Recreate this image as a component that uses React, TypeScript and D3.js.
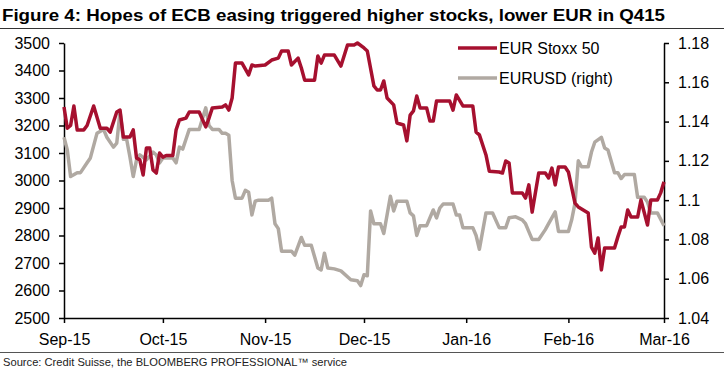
import React, { useRef, useEffect } from 'react';
import * as d3 from 'd3';

// EUR Stoxx 50
const stoxxDates = [
  '2015-09-01', '2015-09-02', '2015-09-03', '2015-09-04', '2015-09-05', '2015-09-07', '2015-09-08', '2015-09-10',
  '2015-09-12', '2015-09-14', '2015-09-15', '2015-09-17', '2015-09-18', '2015-09-19', '2015-09-21', '2015-09-22',
  '2015-09-23', '2015-09-24', '2015-09-25', '2015-09-26', '2015-09-27', '2015-09-28', '2015-09-29', '2015-09-30',
  '2015-10-01', '2015-10-02', '2015-10-04', '2015-10-05', '2015-10-06', '2015-10-08', '2015-10-09', '2015-10-12',
  '2015-10-14', '2015-10-15', '2015-10-16', '2015-10-19', '2015-10-20', '2015-10-21', '2015-10-22', '2015-10-23',
  '2015-10-25', '2015-10-27', '2015-10-28', '2015-10-29', '2015-11-01', '2015-11-03', '2015-11-05', '2015-11-06',
  '2015-11-08', '2015-11-09', '2015-11-11', '2015-11-12', '2015-11-13', '2015-11-16', '2015-11-17', '2015-11-18',
  '2015-11-19', '2015-11-22', '2015-11-24', '2015-11-26', '2015-11-28', '2015-11-29', '2015-12-01', '2015-12-02',
  '2015-12-04', '2015-12-05', '2015-12-06', '2015-12-07', '2015-12-08', '2015-12-10', '2015-12-11', '2015-12-13',
  '2015-12-14', '2015-12-15', '2015-12-16', '2015-12-17', '2015-12-18', '2015-12-20', '2015-12-21', '2015-12-22',
  '2015-12-23', '2015-12-27', '2015-12-28', '2015-12-29', '2015-12-31', '2016-01-03', '2016-01-04', '2016-01-05',
  '2016-01-07', '2016-01-08', '2016-01-11', '2016-01-12', '2016-01-13', '2016-01-14', '2016-01-15', '2016-01-18',
  '2016-01-19', '2016-01-20', '2016-01-21', '2016-01-23', '2016-01-25', '2016-01-26', '2016-01-27', '2016-01-28',
  '2016-01-29', '2016-01-31', '2016-02-01', '2016-02-03', '2016-02-04', '2016-02-07', '2016-02-08', '2016-02-09',
  '2016-02-10', '2016-02-11', '2016-02-12', '2016-02-15', '2016-02-16', '2016-02-17', '2016-02-18', '2016-02-19',
  '2016-02-20', '2016-02-22', '2016-02-23', '2016-02-25', '2016-02-26', '2016-02-28', '2016-02-29', '2016-03-01',
];
const stoxxValues = [
  3267, 3190, 3200, 3271, 3184, 3184, 3200, 3271,
  3190, 3190, 3176, 3249, 3256, 3158, 3158, 3184,
  3082, 3075, 3020, 3118, 3118, 3038, 3027, 3100,
  3085, 3091, 3091, 3184, 3220, 3227, 3249, 3249,
  3195, 3227, 3264, 3267, 3275, 3256, 3300, 3427,
  3427, 3384, 3420, 3416, 3420, 3438, 3445, 3471,
  3471, 3420, 3445, 3409, 3365, 3365, 3453, 3427,
  3456, 3456, 3416, 3493, 3493, 3500, 3482, 3471,
  3344, 3329, 3329, 3362, 3300, 3275, 3209, 3202,
  3144, 3238, 3253, 3307, 3264, 3264, 3216, 3216,
  3289, 3289, 3256, 3311, 3271, 3271, 3176, 3166,
  3093, 3034, 3031, 3027, 3071, 3064, 2955, 2955,
  2936, 2984, 2885, 3027, 3027, 3009, 3045, 2984,
  3049, 3049, 3031, 2918, 2904, 2882, 2758, 2736,
  2791, 2675, 2755, 2755, 2795, 2831, 2831, 2893,
  2867, 2867, 2929, 2838, 2929, 2929, 2955, 2995,
];

// EURUSD
const eurusdDates = [
  '2015-09-01', '2015-09-02', '2015-09-03', '2015-09-05', '2015-09-06', '2015-09-08', '2015-09-09', '2015-09-11',
  '2015-09-13', '2015-09-14', '2015-09-16', '2015-09-17', '2015-09-18', '2015-09-19', '2015-09-20', '2015-09-21',
  '2015-09-22', '2015-09-23', '2015-09-24', '2015-09-26', '2015-09-28', '2015-09-29', '2015-09-30', '2015-10-01',
  '2015-10-04', '2015-10-05', '2015-10-06', '2015-10-07', '2015-10-08', '2015-10-09', '2015-10-12', '2015-10-14',
  '2015-10-15', '2015-10-16', '2015-10-18', '2015-10-19', '2015-10-20', '2015-10-21', '2015-10-22', '2015-10-23',
  '2015-10-25', '2015-10-26', '2015-10-27', '2015-10-28', '2015-10-29', '2015-10-30', '2015-11-02', '2015-11-03',
  '2015-11-04', '2015-11-05', '2015-11-06', '2015-11-09', '2015-11-10', '2015-11-12', '2015-11-13', '2015-11-15',
  '2015-11-17', '2015-11-18', '2015-11-19', '2015-11-20', '2015-11-22', '2015-11-24', '2015-11-27', '2015-11-29',
  '2015-11-30', '2015-12-01', '2015-12-02', '2015-12-03', '2015-12-04', '2015-12-06', '2015-12-07', '2015-12-09',
  '2015-12-10', '2015-12-11', '2015-12-14', '2015-12-15', '2015-12-16', '2015-12-17', '2015-12-18', '2015-12-20',
  '2015-12-22', '2015-12-23', '2015-12-24', '2015-12-25', '2015-12-28', '2015-12-29', '2015-12-30', '2015-12-31',
  '2016-01-03', '2016-01-04', '2016-01-05', '2016-01-07', '2016-01-09', '2016-01-11', '2016-01-13', '2016-01-14',
  '2016-01-16', '2016-01-18', '2016-01-19', '2016-01-20', '2016-01-21', '2016-01-23', '2016-01-25', '2016-01-26',
  '2016-01-28', '2016-01-29', '2016-02-01', '2016-02-02', '2016-02-03', '2016-02-04', '2016-02-05', '2016-02-07',
  '2016-02-08', '2016-02-09', '2016-02-11', '2016-02-12', '2016-02-13', '2016-02-15', '2016-02-16', '2016-02-17',
  '2016-02-18', '2016-02-21', '2016-02-22', '2016-02-24', '2016-02-25', '2016-02-26', '2016-02-28', '2016-03-01',
];
const eurusdValues = [
  1.132, 1.1255, 1.112, 1.114, 1.114, 1.119, 1.1215, 1.134,
  1.136, 1.132, 1.127, 1.129, 1.145, 1.131, 1.131, 1.122,
  1.112, 1.1205, 1.123, 1.1205, 1.1245, 1.123, 1.119, 1.1215,
  1.1215, 1.119, 1.127, 1.126, 1.131, 1.136, 1.136, 1.147,
  1.138, 1.136, 1.136, 1.134, 1.134, 1.133, 1.110, 1.101,
  1.101, 1.105, 1.104, 1.0925, 1.0995, 1.1, 1.1, 1.101,
  1.088, 1.0855, 1.074, 1.074, 1.072, 1.081, 1.077, 1.077,
  1.0655, 1.0645, 1.073, 1.0655, 1.065, 1.064, 1.0595, 1.059,
  1.0565, 1.062, 1.0615, 1.0945, 1.088, 1.088, 1.083, 1.102,
  1.0945, 1.0995, 1.0995, 1.0935, 1.092, 1.082, 1.087, 1.087,
  1.095, 1.091, 1.096, 1.098, 1.098, 1.0925, 1.0925, 1.086,
  1.086, 1.082, 1.075, 1.0935, 1.0935, 1.086, 1.086, 1.091,
  1.0915, 1.090, 1.088, 1.084, 1.080, 1.080, 1.085, 1.088,
  1.094, 1.084, 1.084, 1.090, 1.0985, 1.120, 1.117, 1.117,
  1.1245, 1.1295, 1.132, 1.1265, 1.1255, 1.114, 1.114, 1.111,
  1.113, 1.113, 1.1015, 1.1015, 1.099, 1.0935, 1.0935, 1.087,
];

const leftTicks = [2500, 2600, 2700, 2800, 2900, 3000, 3100, 3200, 3300, 3400, 3500];
const rightTicks = [1.04, 1.06, 1.08, 1.1, 1.12, 1.14, 1.16, 1.18];
const monthTicks = ['2015-09-01', '2015-10-01', '2015-11-01', '2015-12-01', '2016-01-01', '2016-02-01', '2016-03-01'];
const monthLabels = ['Sep-15', 'Oct-15', 'Nov-15', 'Dec-15', 'Jan-16', 'Feb-16', 'Mar-16'];

const RED = '#a6102f';
const GREY = '#b0a9a2';
const FONT = 'Arial, "Liberation Sans", sans-serif';

const App = () => {
    const chartRef = useRef<SVGSVGElement>(null);

    useEffect(() => {
        const width = 724;
        const height = 374;
        const marginLeft = 64;
        const marginRight = 60;
        const marginTop = 43;
        const plotBottom = 318;

        const parse = d3.utcParse('%Y-%m-%d');

        const x = d3.scaleUtc()
            .domain([parse(monthTicks[0])!, parse(monthTicks[monthTicks.length - 1])!])
            .range([marginLeft, width - marginRight]);
        const yLeft = d3.scaleLinear().domain([2500, 3500]).range([plotBottom, marginTop]);
        const yRight = d3.scaleLinear().domain([1.04, 1.18]).range([plotBottom, marginTop]);

        const svg = d3.select(chartRef.current);
        svg.selectAll('*').remove();
        svg.attr('width', width).attr('height', height);

        // title + rules
        svg.append('text')
            .attr('x', 2).attr('y', 21)
            .attr('font-family', FONT).attr('font-size', 16).attr('font-weight', 'bold')
            .attr('fill', '#000')
            .attr('textLength', 663).attr('lengthAdjust', 'spacingAndGlyphs')
            .text('Figure 4: Hopes of ECB easing triggered higher stocks, lower EUR in Q415');
        svg.append('line')
            .attr('x1', 0).attr('x2', width).attr('y1', 28.5).attr('y2', 28.5)
            .attr('stroke', '#333').attr('stroke-width', 1);
        svg.append('line')
            .attr('x1', 0).attr('x2', width).attr('y1', 352.5).attr('y2', 352.5)
            .attr('stroke', '#555').attr('stroke-width', 1);
        svg.append('text')
            .attr('x', 3).attr('y', 366)
            .attr('font-family', FONT).attr('font-size', 11).attr('fill', '#222')
            .attr('textLength', 344).attr('lengthAdjust', 'spacingAndGlyphs')
            .text('Source: Credit Suisse, the BLOOMBERG PROFESSIONAL\u2122 service');

        const styleAxis = (g: any) => {
            g.select('.domain').attr('stroke', '#000').attr('stroke-width', 1.5);
            g.selectAll('.tick line').attr('stroke', '#000').attr('stroke-width', 1.5);
            g.selectAll('.tick text').attr('font-family', FONT).attr('font-size', 16).attr('fill', '#000');
        };

        svg.append('g')
            .attr('transform', `translate(${marginLeft},0)`)
            .call(d3.axisLeft(yLeft).tickValues(leftTicks).tickSize(5).tickSizeOuter(0).tickPadding(9).tickFormat(d3.format('d')))
            .call(styleAxis);

        svg.append('g')
            .attr('transform', `translate(${width - marginRight},0)`)
            .call(d3.axisRight(yRight).tickValues(rightTicks).tickSize(5).tickSizeOuter(0).tickPadding(9)
                .tickFormat((d: any) => String(+d.toFixed(2))))
            .call(styleAxis);

        svg.append('g')
            .attr('transform', `translate(0,${plotBottom})`)
            .call(d3.axisBottom(x).tickValues(monthTicks.map(d => parse(d)!)).tickSize(5).tickSizeOuter(0).tickPadding(11)
                .tickFormat((_d: any, i: number) => monthLabels[i]))
            .call(styleAxis);

        const usd = eurusdDates.map((d, i) => ({ date: parse(d)!, value: eurusdValues[i] }));
        const stoxx = stoxxDates.map((d, i) => ({ date: parse(d)!, value: stoxxValues[i] }));

        svg.append('path')
            .datum(usd)
            .attr('fill', 'none').attr('stroke', GREY).attr('stroke-width', 3.5)
            .attr('stroke-linejoin', 'round')
            .attr('d', d3.line<any>().x(d => x(d.date)).y(d => yRight(d.value)));

        svg.append('path')
            .datum(stoxx)
            .attr('fill', 'none').attr('stroke', RED).attr('stroke-width', 3.5)
            .attr('stroke-linejoin', 'round')
            .attr('d', d3.line<any>().x(d => x(d.date)).y(d => yLeft(d.value)));

        // legend
        const legend = [
            { label: 'EUR Stoxx 50', color: RED },
            { label: 'EURUSD (right)', color: GREY },
        ];
        const lg = svg.append('g').attr('transform', 'translate(458,48)');
        legend.forEach((item, i) => {
            lg.append('line')
                .attr('x1', 0).attr('x2', 39).attr('y1', i * 30).attr('y2', i * 30)
                .attr('stroke', item.color).attr('stroke-width', 3.5);
            lg.append('text')
                .attr('x', 41).attr('y', i * 30 + 6)
                .attr('font-family', FONT).attr('font-size', 16).attr('fill', '#000')
                .text(item.label);
        });
    }, []);

    return <svg ref={chartRef} style={{ position: 'absolute', left: 0, top: 0 }}></svg>;
};

export default App;
